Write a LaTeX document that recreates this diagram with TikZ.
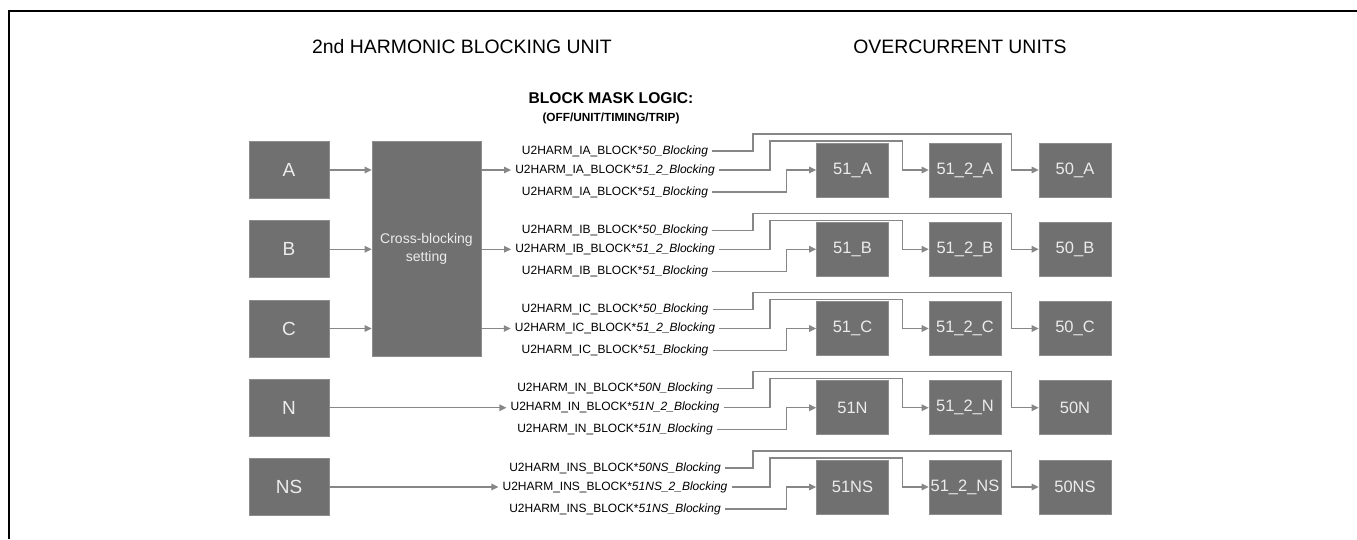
\documentclass[tikz,border=0pt]{standalone}
\usepackage{fontspec}
\setmainfont{Liberation Sans}
\usetikzlibrary{arrows.meta,positioning}
\definecolor{boxgray}{RGB}{112,112,112}
\definecolor{wiregray}{RGB}{135,135,135}
\definecolor{labelgray}{RGB}{236,236,236}

\begin{document}
\begin{tikzpicture}[x=1pt,y=-1pt,
  unit/.style={fill=boxgray,draw=boxgray!80!white,line width=.6pt,text=labelgray,
    minimum width=80pt,minimum height=57pt,inner sep=0pt,
    font=\fontsize{19}{19}\selectfont},
  relay/.style={unit,minimum width=72pt,minimum height=54pt,
    font=\fontsize{16.5}{16.5}\selectfont},
  wire/.style={draw=wiregray,line width=1.3pt,-{Triangle[length=7pt,width=6.5pt]}},
  mask/.style={font=\fontsize{12}{12}\selectfont,inner xsep=4pt,inner ysep=1pt},
  heading/.style={font=\fontsize{19.4}{19.4}\selectfont}]

\useasboundingbox (0,0) rectangle (1357,539);
% page frame, top and left edge only
\draw[line width=1.6pt] (1357,11) -- (9,11) -- (9,539);

% Column headings.
\node[heading] (hblock) at (462,47) {2nd HARMONIC BLOCKING UNIT};
\node[heading] (hover) at (960,47) {OVERCURRENT UNITS};
\node[font=\bfseries\fontsize{15.6}{15.6}\selectfont] (mask) at (611,98)
  {BLOCK MASK LOGIC:};
\node[font=\bfseries\fontsize{11.8}{11.8}\selectfont] (maskopt) at (611,118)
  {(OFF/UNIT/TIMING/TRIP)};

% Phase currents share the cross-blocking setting.
\node[unit,minimum width=109pt,minimum height=215pt,align=center,
  font=\fontsize{14}{18}\selectfont] (cross) at (426.5,248.5)
  {Cross-blocking\\setting};

% One row group per input: mask signals fan out to 51, 51_2 and 50.
\foreach \k/\src/\code/\bf/\bt/\bo/\ro/\rt/\rf in
  {0/A/IA/50/51\_2/51/51\_A/51\_2\_A/50\_A,
   1/B/IB/50/51\_2/51/51\_B/51\_2\_B/50\_B,
   2/C/IC/50/51\_2/51/51\_C/51\_2\_C/50\_C,
   3/N/IN/50N/51N\_2/51N/51N/51\_2\_N/50N,
   4/NS/INS/50NS/51NS\_2/51NS/51NS/51\_2\_NS/50NS}
{
  \pgfmathsetmacro\cy{170+79.25*\k}
  \node[unit] (in\k) at (289,\cy) {\src};
  \node[mask] (bf\k) at (615,\cy-19) {U2HARM\_\code\_BLOCK*\textit{\bf\_Blocking}};
  \node[mask] (bt\k) at (615,\cy) {U2HARM\_\code\_BLOCK*\textit{\bt\_Blocking}};
  \node[mask] (bo\k) at (615,\cy+22) {U2HARM\_\code\_BLOCK*\textit{\bo\_Blocking}};
  \node[relay] (ro\k) at (852.5,\cy) {\ro};
  \node[relay] (rt\k) at (965,\cy) {\rt};
  \node[relay] (rf\k) at (1075,\cy) {\rf};
  \ifnum\k<3
    \draw[wire] (in\k) -- (cross.west |- in\k);
    \draw[wire] (cross.east |- bt\k) -- (bt\k.west);
  \else
    \draw[wire] (in\k) -- (bt\k.west);
  \fi
  \draw[wire] (bo\k.east) -| ([xshift=-30pt]ro\k.west) -- (ro\k.west);
  \draw[wire] (bt\k.east) -| (770,\cy-29) -| ([xshift=-26pt]rt\k.west)
    -- (rt\k.west);
  \draw[wire] (bf\k.east) -| (753,\cy-36) -| ([xshift=-27pt]rf\k.west)
    -- (rf\k.west);
}
\end{tikzpicture}
\end{document}
